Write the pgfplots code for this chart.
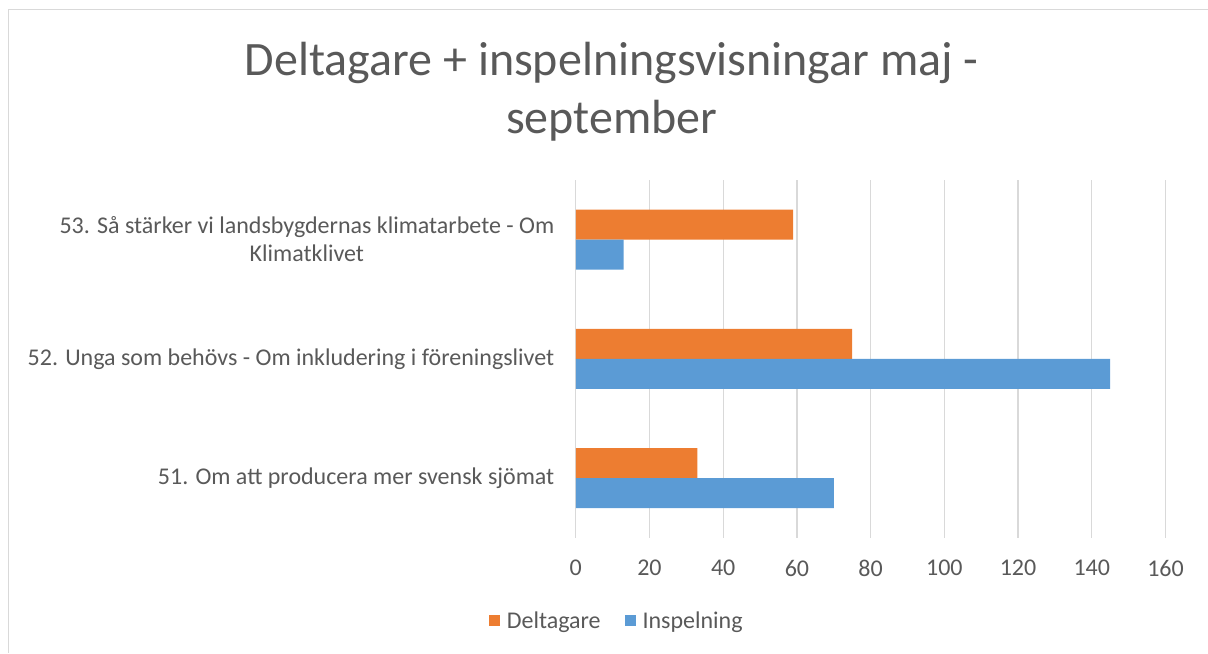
\documentclass[border=0pt]{standalone}
\usepackage{pgfplots}
\pgfplotsset{compat=1.18}
\usepackage{fontspec}
\setmainfont{Carlito}
\definecolor{txtgray}{HTML}{595959}
\definecolor{gridgray}{HTML}{D9D9D9}
\definecolor{xlorange}{HTML}{ED7D31}
\definecolor{xlblue}{HTML}{5B9BD5}
\begin{document}
\begin{tikzpicture}
% page frame: 1pt = 1px of the reference
\path (-576pt,-115pt) rectangle (632pt,538pt);
\draw[gridgray, line width=1pt] (-567pt,-115pt) -- (-567pt,528pt) -- (632pt,528pt);
\node[anchor=base, text=txtgray, font=\fontsize{48}{58}\selectfont] at (36pt,462pt) {Deltagare + inspelningsvisningar maj -};
\node[anchor=base, text=txtgray, font=\fontsize{48}{58}\selectfont] at (36pt,404pt) {september};
\begin{axis}[
    at={(0pt,0pt)}, anchor=south west,
    scale only axis,
    width=590pt, height=358pt,
    xmin=0, xmax=160,
    ymin=-0.5, ymax=2.5,
    xtick={0,20,...,160},
    ytick={0,1,2},
    yticklabels={
        51. Om att producera mer svensk sjömat,
        52. Unga som behövs - Om inkludering i föreningslivet,
        {53. Så stärker vi landsbygdernas klimatarbete - Om\\Klimatklivet}
    },
    xbar,
    bar width=30pt,
    axis line style={draw=none},
    major tick length=0pt,
    xmajorgrids=true,
    grid style={gridgray, line width=1.2pt},
    /pgf/number format/assume math mode=true,
    xticklabel style={text=txtgray, font=\fontsize{24}{28}\selectfont, yshift=-19pt},
    yticklabel style={text=txtgray, font=\fontsize{24}{28}\selectfont, align=center, xshift=-18pt},
    legend columns=2,
    legend style={
        at={(axis description cs:0.0695,-0.232)}, anchor=center,
        draw=none, fill=none,
        font=\fontsize{24}{28}\selectfont, text=txtgray,
        /tikz/every odd column/.append style={column sep=5pt},
        /tikz/every even column/.append style={column sep=22pt},
    },
    legend image code/.code={\fill[#1] (0pt,-5.5pt) rectangle (11pt,5.5pt);},
]
\addplot[fill=xlorange, draw=none, bar shift=15pt] coordinates {
    (33,0) (75,1) (59,2)
};
\addlegendentry{Deltagare}
\addplot[fill=xlblue, draw=none, bar shift=-15pt] coordinates {
    (70,0) (145,1) (13,2)
};
\addlegendentry{Inspelning}
\end{axis}
\end{tikzpicture}
\end{document}
